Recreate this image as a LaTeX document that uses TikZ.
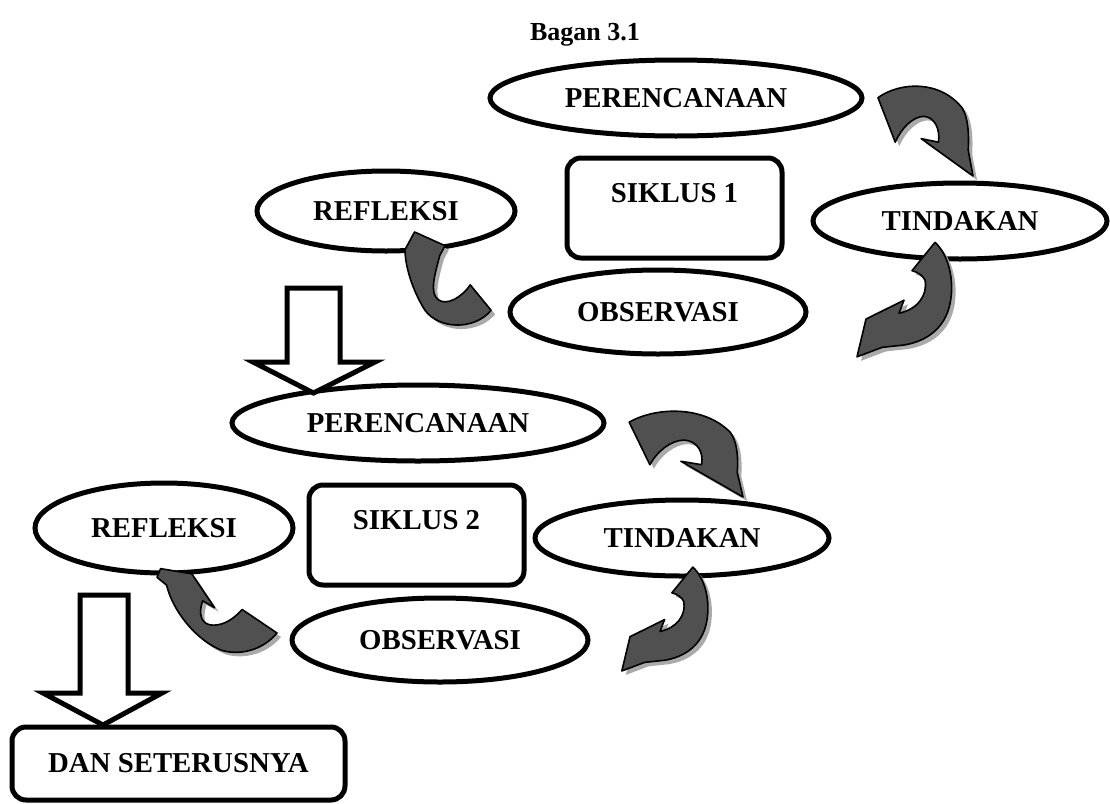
\documentclass[tikz,border=0pt]{standalone}
\usepackage{fontspec}
\setmainfont{Liberation Serif}
\usetikzlibrary{shapes.geometric}
\definecolor{agray}{RGB}{80,80,80}
\definecolor{sgray}{RGB}{170,170,170}
% curved block arrow outlines, in a unit box (y pointing down)
\newcommand\shpA{(0.01,0.12) .. controls (0.24,-0.06) and (0.66,-0.08) .. (0.89,0.24) .. controls (0.95,0.35) and (0.96,0.54) .. (0.95,0.71) -- (1,1) -- (0.46,0.58) -- (0.64,0.62) .. controls (0.66,0.47) and (0.6,0.34) .. (0.49,0.33) .. controls (0.37,0.33) and (0.25,0.47) .. (0.19,0.62) -- cycle}
\newcommand\shpB{(0.80,0.02) .. controls (0.93,0.12) and (1.0,0.33) .. (0.95,0.54) .. controls (0.90,0.75) and (0.71,0.86) .. (0.49,0.89) -- (0.27,0.91) -- (0.02,0.99) -- (0.11,0.67) -- (0.49,0.51) -- (0.44,0.62) .. controls (0.62,0.59) and (0.73,0.47) .. (0.70,0.34) .. controls (0.68,0.3) and (0.62,0.27) .. (0.57,0.26) -- cycle}
\newcommand\shpC{(0.11,0.02) -- (0.46,0.16) -- (0.40,0.26) .. controls (0.34,0.46) and (0.28,0.64) .. (0.38,0.71) .. controls (0.48,0.78) and (0.66,0.68) .. (0.75,0.56) -- (0.99,0.82) .. controls (0.8,1.02) and (0.4,1.02) .. (0.23,0.82) .. controls (0.08,0.61) and (0,0.36) .. (0.0,0.2) -- cycle}
\newcommand\shpD{(0.03,0.03) -- (0.29,0.09) -- (0.48,0.48) -- (0.38,0.40) .. controls (0.34,0.56) and (0.37,0.68) .. (0.47,0.68) .. controls (0.57,0.68) and (0.65,0.59) .. (0.71,0.50) -- (1.0,0.77) .. controls (0.88,0.97) and (0.69,1.03) .. (0.54,0.97) .. controls (0.32,0.85) and (0.13,0.51) .. (0.08,0.22) -- (0.0,0.13) -- cycle}
\newcommand\garrow[5]{%
  \begin{scope}[shift={(#2+4,-#3-4)}, xscale=#4, yscale=-#5]
    \fill[sgray] #1;
  \end{scope}
  \begin{scope}[shift={(#2,-#3)}, xscale=#4, yscale=-#5]
    \filldraw[garrowst] #1;
  \end{scope}}
\begin{document}
\begin{tikzpicture}[x=1pt, y=1pt,
  txt/.style={font=\bfseries\fontsize{28.8}{34}\selectfont},
  ell/.style={ellipse, draw, line width=5pt, fill=white, inner sep=0pt, txt},
  boxst/.style={rectangle, draw, line width=5pt, rounded corners=14pt, fill=white, inner sep=0pt, txt},
  hollow/.style={draw, line width=5pt, fill=white, miter limit=10},
  garrowst/.style={fill=agray, draw=black, line width=1.6pt, line join=round}]
\useasboundingbox (0,0) rectangle (1110,-803);
\node[font=\bfseries\fontsize{26}{30}\selectfont] (title) at (585,-35) {Bagan 3.1};
% cycle 1
\node[ell, minimum width=372, minimum height=76] (per1) at (676,-98) {PERENCANAAN};
\node[ell, minimum width=294, minimum height=76] (tin1) at (960,-221) {TINDAKAN};
\node[ell, minimum width=258, minimum height=80] (ref1) at (386,-211) {REFLEKSI};
\node[ell, minimum width=296, minimum height=84] (obs1) at (658,-312) {OBSERVASI};
\node[boxst, minimum width=215, minimum height=100, text height=19pt, text depth=30pt] (sik1) at (674.5,-208) {SIKLUS 1};
% cycle 2
\node[ell, minimum width=372, minimum height=76] (per2) at (418,-423) {PERENCANAAN};
\node[ell, minimum width=294, minimum height=76] (tin2) at (682,-538) {TINDAKAN};
\node[ell, minimum width=258, minimum height=90] (ref2) at (164,-528) {REFLEKSI};
\node[ell, minimum width=296, minimum height=84] (obs2) at (440,-640) {OBSERVASI};
\node[boxst, minimum width=215, minimum height=100, text height=19pt, text depth=30pt] (sik2) at (416.5,-535) {SIKLUS 2};
\node[boxst, minimum width=333, minimum height=73] (dan) at (178.5,-763.5) {DAN SETERUSNYA};
% hollow down arrows
\draw[hollow] (287,-288) -- (340,-288) -- (340,-362) -- (375,-362) -- (313.5,-393) -- (253,-362) -- (287,-362) -- cycle;
\draw[hollow] (80,-595) -- (128,-595) -- (128,-693) -- (162,-693) -- (103,-725) -- (43,-693) -- (80,-693) -- cycle;
% curved arrows
\garrow{\shpA}{877}{87}{96}{89}
\garrow{\shpB}{855}{240}{100}{118}
\garrow{\shpC}{405}{230}{87}{98}
\garrow{\shpA}{628}{412}{115}{85}
\garrow{\shpB}{620}{565}{91}{107}
\garrow{\shpD}{157}{566}{120}{87}
\end{tikzpicture}
\end{document}
